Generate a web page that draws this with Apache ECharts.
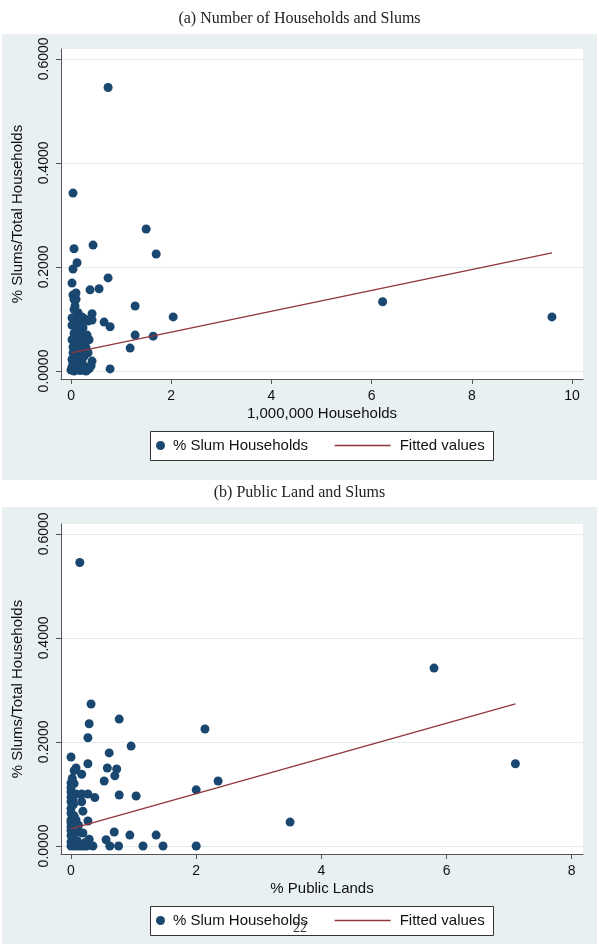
<!DOCTYPE html>
<html>
<head>
<meta charset="utf-8">
<script src="https://cdn.jsdelivr.net/npm/echarts@6/dist/echarts.min.js"></script>
<style>
  html, body { margin: 0; padding: 0; background: #fff; }
  #main { width: 599px; height: 944px; }
</style>
</head>
<body>
<div id="main"></div>
<script>
// panel (a): households (millions) vs slum share
const householdsA = [0.74, 0.04, 1.50, 0.44, 0.06, 1.70, 0.12, 0.04, 0.74, 0.02,
  0.38, 0.56, 0.10, 0.04, 0.06, 1.28, 0.08, 0.14, 0.42, 0.02,
  2.04, 6.22, 9.60, 0.34, 0.42, 0.66, 0.78, 0.08, 0.18, 0.02,
  0.16, 0.32, 0.24, 1.28, 1.64, 1.18, 0.08, 0.28, 0.04, 0.18,
  0.34, 0.04, 0.08, 0.42, 0.22, 0.04, 0.78, 0.00, 0.06, 0.12,
  0.18, 0.24, 0.30, 0.36, 0.08, 0.14, 0.20, 0.28, 0.02, 0.12,
  0.16, 0.26, 0.30, 0.14, 0.20, 0.16, 0.22, 0.28, 0.12, 0.06,
  0.10, 0.22, 0.02, 0.06, 0.10, 0.20, 0.36, 0.24, 0.40, 0.02];
const slumShareA = [0.545, 0.342, 0.273, 0.242, 0.235, 0.225, 0.208, 0.196, 0.179, 0.169,
  0.156, 0.158, 0.150, 0.146, 0.138, 0.125, 0.125, 0.112, 0.110, 0.102,
  0.104, 0.133, 0.104, 0.096, 0.098, 0.094, 0.085, 0.092, 0.092, 0.088,
  0.073, 0.069, 0.083, 0.069, 0.067, 0.044, 0.060, 0.054, 0.046, 0.037,
  0.035, 0.035, 0.025, 0.019, 0.017, 0.015, 0.004, 0.002, 0.000, 0.003,
  0.001, 0.002, 0.000, 0.004, 0.009, 0.011, 0.012, 0.008, 0.022, 0.030,
  0.022, 0.028, 0.045, 0.052, 0.063, 0.100, 0.104, 0.100, 0.080, 0.072,
  0.040, 0.045, 0.060, 0.118, 0.138, 0.075, 0.060, 0.033, 0.010, 0.008];
const fitXA = [0.01, 9.60];
const fitYA = [0.035, 0.227];

// panel (b): % public land vs slum share
const publicLandB = [0.14, 5.80, 0.32, 0.77, 0.29, 2.14, 0.27, 0.96, 0.61, 0.00,
  0.27, 7.10, 0.08, 0.58, 0.73, 0.05, 0.17, 0.70, 2.35, 0.53,
  0.00, 0.05, 2.00, 0.00, 0.08, 0.17, 0.27, 0.38, 0.77, 1.04,
  0.00, 0.00, 0.17, 0.19, 0.00, 0.00, 0.08, 0.27, 3.50, 0.00,
  0.05, 0.13, 0.29, 0.19, 0.56, 0.69, 0.94, 1.36, 0.62, 0.76,
  1.15, 1.47, 2.00, 0.00, 0.05, 0.10, 0.15, 0.20, 0.25, 0.30,
  0.35, 0.00, 0.03, 0.10, 0.00, 0.00, 0.00, 0.03, 0.00, 0.02,
  0.05, 0.12, 0.00, 0.04, 0.22];
const slumShareB = [0.545, 0.342, 0.273, 0.244, 0.235, 0.225, 0.208, 0.192, 0.179, 0.171,
  0.158, 0.158, 0.150, 0.150, 0.148, 0.145, 0.138, 0.135, 0.125, 0.125,
  0.121, 0.120, 0.108, 0.104, 0.100, 0.100, 0.100, 0.093, 0.098, 0.096,
  0.094, 0.085, 0.085, 0.067, 0.063, 0.050, 0.050, 0.048, 0.046, 0.037,
  0.025, 0.027, 0.013, 0.025, 0.012, 0.027, 0.021, 0.021, 0.000, 0.000,
  0.000, 0.000, 0.000, 0.000, 0.000, 0.000, 0.000, 0.000, 0.000, 0.003,
  0.000, 0.008, 0.015, 0.010, 0.020, 0.030, 0.072, 0.090, 0.112, 0.130,
  0.058, 0.040, 0.045, 0.080, 0.006];
const fitXB = [0.00, 7.10];
const fitYB = [0.033, 0.273];

const yTicks = [0, 0.2, 0.4, 0.6];
const xTicksA = [0, 2, 4, 6, 8, 10];
const xTicksB = [0, 2, 4, 6, 8];

const SANS = 'Liberation Sans, Arial, sans-serif';
const SERIF = 'Liberation Serif, Times New Roman, serif';
const NAVY = '#1a476f';
const MAROON = '#90353b';
const PANEL = '#e8f0f2';
const AXIS = '#555';

const zip = (xs, ys) => xs.map((x, i) => [x, ys[i]]);

function xAxisCfg(idx, name, min, max, ticks) {
  return {
    type: 'value', gridIndex: idx, min: min, max: max,
    name: name, nameLocation: 'middle', nameGap: 27,
    nameTextStyle: { fontFamily: SANS, fontSize: 15, color: '#111' },
    axisLine: { show: true, onZero: false, lineStyle: { color: AXIS } },
    axisTick: { show: true, length: 5, customValues: ticks, lineStyle: { color: AXIS } },
    axisLabel: { customValues: ticks, margin: 10, fontFamily: SANS, fontSize: 14, color: '#111' },
    splitLine: { show: false }
  };
}
function yAxisCfg(idx) {
  return {
    type: 'value', gridIndex: idx, min: -0.0154, max: 0.619,
    name: '% Slums/Total Households', nameLocation: 'middle', nameGap: 36, nameRotate: 90,
    nameTextStyle: { fontFamily: SANS, fontSize: 15, color: '#111' },
    axisLine: { show: true, onZero: false, lineStyle: { color: AXIS } },
    axisTick: { show: true, length: 5, customValues: yTicks, lineStyle: { color: AXIS } },
    axisLabel: {
      customValues: yTicks, rotate: 90, margin: 10, fontFamily: SANS, fontSize: 14, color: '#111',
      formatter: (v) => v.toFixed(4)
    },
    splitLine: { show: true, lineStyle: { color: '#e4ecee', width: 1 } }
  };
}
function legendPair(top) {
  return [
    {
      data: ['% Slum Households'], left: 156, top: top, padding: 0,
      icon: 'circle', itemWidth: 9, itemHeight: 9,
      textStyle: { fontFamily: SANS, fontSize: 15, color: '#111', padding: [0, 0, 0, 3] }
    },
    {
      // line only, hide the marker ECharts puts in the middle
      data: ['Fitted values'], left: 334, top: top, padding: 0,
      itemWidth: 56, itemHeight: 14,
      itemStyle: { color: 'rgba(0,0,0,0)', borderColor: 'rgba(0,0,0,0)', borderWidth: 0 },
      lineStyle: { color: MAROON, width: 1.3 },
      textStyle: { fontFamily: SANS, fontSize: 15, color: '#111', padding: [0, 0, 0, 4] }
    }
  ];
}

const chart = echarts.init(document.getElementById('main'));
const option = {
  animation: false,
  backgroundColor: '#fff',
  title: [
    { text: '(a) Number of Households and Slums', left: 'center', top: 6,
      textStyle: { fontFamily: SERIF, fontSize: 16, fontWeight: 'normal', color: '#222' } },
    { text: '(b) Public Land and Slums', left: 'center', top: 480,
      textStyle: { fontFamily: SERIF, fontSize: 16, fontWeight: 'normal', color: '#222' } }
  ],
  graphic: [
    { type: 'rect', z: -1, shape: { x: 2, y: 34, width: 595, height: 446 }, style: { fill: PANEL } },
    { type: 'rect', z: -1, shape: { x: 2, y: 507, width: 595, height: 437 }, style: { fill: PANEL } },
    { type: 'rect', z: 1, shape: { x: 150.5, y: 431.5, width: 343, height: 29 },
      style: { fill: '#fff', stroke: '#333', lineWidth: 1 } },
    { type: 'rect', z: 1, shape: { x: 150.5, y: 906.5, width: 343, height: 29 },
      style: { fill: '#fff', stroke: '#333', lineWidth: 1 } },
    { type: 'text', z: 20, left: 293, top: 921,
      style: { text: '22', fontFamily: SERIF, fontSize: 14, fill: '#333' } }
  ],
  legend: legendPair(438).concat(legendPair(913)),
  grid: [
    { left: 61, top: 49, width: 522, height: 330, show: true, backgroundColor: '#fff', borderWidth: 0 },
    { left: 61, top: 524, width: 522, height: 330, show: true, backgroundColor: '#fff', borderWidth: 0 }
  ],
  xAxis: [
    xAxisCfg(0, '1,000,000 Households', -0.2, 10.22, xTicksA),
    xAxisCfg(1, '% Public Lands', -0.16, 8.18, xTicksB)
  ],
  yAxis: [yAxisCfg(0), yAxisCfg(1)],
  series: [
    {
      name: '% Slum Households', type: 'scatter', xAxisIndex: 0, yAxisIndex: 0,
      symbolSize: 9, itemStyle: { color: NAVY, opacity: 1 },
      data: zip(householdsA, slumShareA)
    },
    {
      name: 'Fitted values', type: 'line', xAxisIndex: 0, yAxisIndex: 0, z: 3,
      symbol: 'none', lineStyle: { color: MAROON, width: 1.3 }, itemStyle: { color: MAROON },
      data: zip(fitXA, fitYA)
    },
    {
      name: '% Slum Households', type: 'scatter', xAxisIndex: 1, yAxisIndex: 1,
      symbolSize: 9, itemStyle: { color: NAVY, opacity: 1 },
      data: zip(publicLandB, slumShareB)
    },
    {
      name: 'Fitted values', type: 'line', xAxisIndex: 1, yAxisIndex: 1, z: 3,
      symbol: 'none', lineStyle: { color: MAROON, width: 1.3 }, itemStyle: { color: MAROON },
      data: zip(fitXB, fitYB)
    }
  ]
};
chart.setOption(option);
</script>
</body>
</html>
